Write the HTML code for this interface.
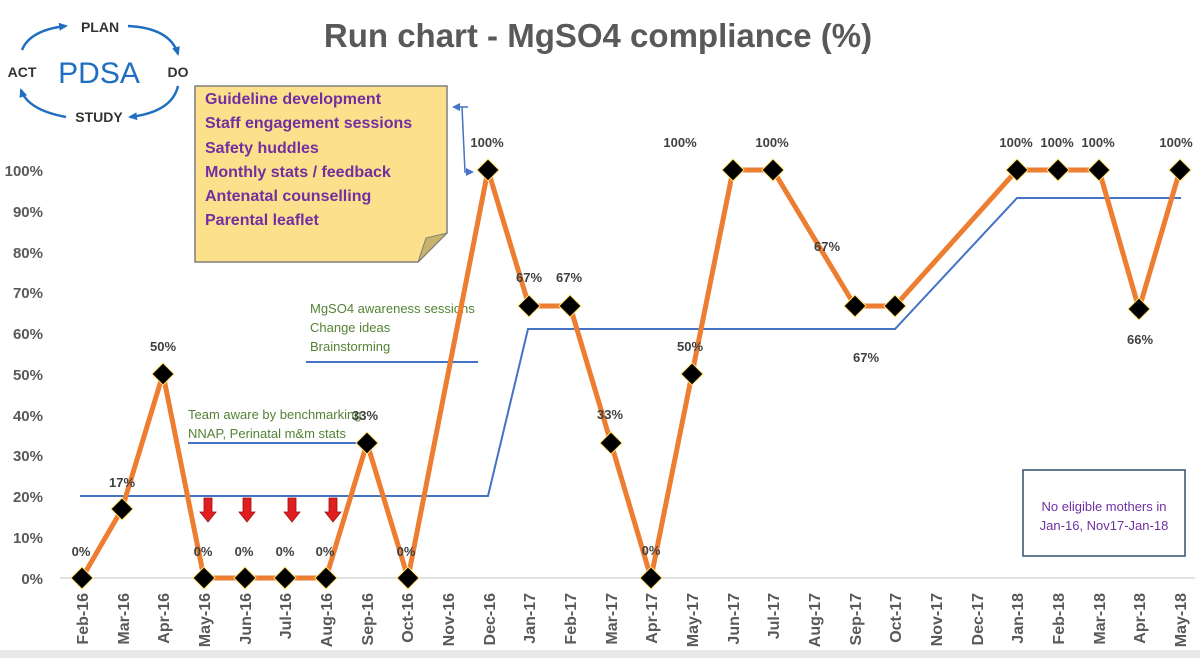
<!DOCTYPE html>
<html><head><meta charset="utf-8"><style>
html,body{margin:0;padding:0;background:#fff;}
svg{display:block;font-family:"Liberation Sans",sans-serif;}
</style></head><body>
<svg width="1200" height="658" viewBox="0 0 1200 658" xmlns="http://www.w3.org/2000/svg">
<defs>
<marker id="ah" markerUnits="userSpaceOnUse" markerWidth="10" markerHeight="10" refX="7" refY="5" orient="auto"><path d="M0,1 L9,5 L0,9 z" fill="#1f6fc0"/></marker>
<marker id="ab" markerUnits="userSpaceOnUse" markerWidth="8" markerHeight="8" refX="6" refY="4" orient="auto"><path d="M0,0 L8,4 L0,8 z" fill="#4472c4"/></marker>
</defs>
<rect x="0" y="650" width="1200" height="8" fill="#e8e8e8"/>
<text x="598" y="47" text-anchor="middle" font-size="33" font-weight="bold" fill="#595959">Run chart - MgSO4 compliance (%)</text>
<!-- PDSA -->
<g fill="none" stroke="#1f6fc0" stroke-width="2.5">
<path d="M22,50 Q30,30 66,26" marker-end="url(#ah)"/>
<path d="M128,26 Q170,28 178,54" marker-end="url(#ah)"/>
<path d="M178,86 Q172,112 130,117" marker-end="url(#ah)"/>
<path d="M66,117 Q28,110 21,90" marker-end="url(#ah)"/>
</g>
<text x="100" y="32" text-anchor="middle" font-size="14" font-weight="bold" fill="#333">PLAN</text>
<text x="22" y="77" text-anchor="middle" font-size="14" font-weight="bold" fill="#333">ACT</text>
<text x="178" y="77" text-anchor="middle" font-size="14" font-weight="bold" fill="#333">DO</text>
<text x="99" y="122" text-anchor="middle" font-size="14" font-weight="bold" fill="#333">STUDY</text>
<text x="99" y="83" text-anchor="middle" font-size="30" fill="#1f6fc0">PDSA</text>
<!-- note -->
<path d="M195,86 L447,86 L447,233 L418,262 L195,262 Z" fill="#fde08c" stroke="#7f7f7f" stroke-width="1.5"/>
<path d="M418,262 L426,238 L447,233 Z" fill="#c9b26a" stroke="#7f7f7f"/>
<g font-size="16" font-weight="bold" fill="#7030a0">
<text x="205" y="104">Guideline development</text>
<text x="205" y="128">Staff engagement sessions</text>
<text x="205" y="153">Safety huddles</text>
<text x="205" y="177">Monthly stats / feedback</text>
<text x="205" y="201">Antenatal counselling</text>
<text x="205" y="225">Parental leaflet</text>
</g>
<path d="M468,107 L454,107" stroke="#4472c4" stroke-width="1.5" marker-end="url(#ab)"/>
<path d="M462,107 L465,172 L472,172" stroke="#4472c4" stroke-width="1.5" fill="none" marker-end="url(#ab)"/>
<!-- y axis -->
<g font-size="15" font-weight="bold" fill="#595959" text-anchor="end">
<text x="43" y="584">0%</text><text x="43" y="543">10%</text><text x="43" y="502">20%</text><text x="43" y="461">30%</text><text x="43" y="421">40%</text><text x="43" y="380">50%</text><text x="43" y="339">60%</text><text x="43" y="298">70%</text><text x="43" y="258">80%</text><text x="43" y="217">90%</text><text x="43" y="176">100%</text>
</g>
<line x1="60" y1="578" x2="1195" y2="578" stroke="#d9d9d9" stroke-width="1.5"/>
<!-- x labels -->
<g font-size="16" font-weight="bold" fill="#595959" text-anchor="end">
<text transform="translate(88,593) rotate(-90)">Feb-16</text>
<text transform="translate(129,593) rotate(-90)">Mar-16</text>
<text transform="translate(169,593) rotate(-90)">Apr-16</text>
<text transform="translate(210,593) rotate(-90)">May-16</text>
<text transform="translate(251,593) rotate(-90)">Jun-16</text>
<text transform="translate(291,593) rotate(-90)">Jul-16</text>
<text transform="translate(332,593) rotate(-90)">Aug-16</text>
<text transform="translate(373,593) rotate(-90)">Sep-16</text>
<text transform="translate(413,593) rotate(-90)">Oct-16</text>
<text transform="translate(454,593) rotate(-90)">Nov-16</text>
<text transform="translate(495,593) rotate(-90)">Dec-16</text>
<text transform="translate(535,593) rotate(-90)">Jan-17</text>
<text transform="translate(576,593) rotate(-90)">Feb-17</text>
<text transform="translate(617,593) rotate(-90)">Mar-17</text>
<text transform="translate(657,593) rotate(-90)">Apr-17</text>
<text transform="translate(698,593) rotate(-90)">May-17</text>
<text transform="translate(739,593) rotate(-90)">Jun-17</text>
<text transform="translate(779,593) rotate(-90)">Jul-17</text>
<text transform="translate(820,593) rotate(-90)">Aug-17</text>
<text transform="translate(861,593) rotate(-90)">Sep-17</text>
<text transform="translate(901,593) rotate(-90)">Oct-17</text>
<text transform="translate(942,593) rotate(-90)">Nov-17</text>
<text transform="translate(983,593) rotate(-90)">Dec-17</text>
<text transform="translate(1023,593) rotate(-90)">Jan-18</text>
<text transform="translate(1064,593) rotate(-90)">Feb-18</text>
<text transform="translate(1105,593) rotate(-90)">Mar-18</text>
<text transform="translate(1145,593) rotate(-90)">Apr-18</text>
<text transform="translate(1186,593) rotate(-90)">May-18</text>
</g>
<!-- blue lines -->
<g stroke="#4472c4" stroke-width="2" fill="none">
<polyline points="80,496 488,496 528,329 895,329 1017,198 1181,198"/>
<line x1="188" y1="443" x2="372" y2="443"/>
<line x1="306" y1="362" x2="478" y2="362"/>
</g>
<g font-size="13" fill="#548235">
<text x="310" y="313">MgSO4 awareness sessions</text>
<text x="310" y="332">Change ideas</text>
<text x="310" y="351">Brainstorming</text>
<text x="188" y="419">Team aware by benchmarking</text>
<text x="188" y="438">NNAP, Perinatal m&amp;m stats</text>
</g>
<!-- red arrows -->
<g fill="#e02020" stroke="#a01010" stroke-width="0.8">
<path d="M204,498 h8 v14 h4 l-8,10 l-8,-10 h4 z"/>
<path d="M243,498 h8 v14 h4 l-8,10 l-8,-10 h4 z"/>
<path d="M288,498 h8 v14 h4 l-8,10 l-8,-10 h4 z"/>
<path d="M329,498 h8 v14 h4 l-8,10 l-8,-10 h4 z"/>
</g>
<!-- data -->
<polyline fill="none" stroke="#ed7d31" stroke-width="5" stroke-linejoin="round" points="82,578 122,509 163,374 204,578 245,578 285,578 326,578 367,443 408,578 488,170 529,306 570,306 611,443 651,578 692,374 733,170 773,170 855,306 895,306 1017,170 1058,170 1099,170 1139,309 1180,170"/>
<g fill="#000" stroke="#ffe070" stroke-width="1">
<path d="M82,567 l11,11 l-11,11 l-11,-11z"/><path d="M122,498 l11,11 l-11,11 l-11,-11z"/><path d="M163,363 l11,11 l-11,11 l-11,-11z"/><path d="M204,567 l11,11 l-11,11 l-11,-11z"/><path d="M245,567 l11,11 l-11,11 l-11,-11z"/><path d="M285,567 l11,11 l-11,11 l-11,-11z"/><path d="M326,567 l11,11 l-11,11 l-11,-11z"/><path d="M367,432 l11,11 l-11,11 l-11,-11z"/><path d="M408,567 l11,11 l-11,11 l-11,-11z"/><path d="M488,159 l11,11 l-11,11 l-11,-11z"/><path d="M529,295 l11,11 l-11,11 l-11,-11z"/><path d="M570,295 l11,11 l-11,11 l-11,-11z"/><path d="M611,432 l11,11 l-11,11 l-11,-11z"/><path d="M651,567 l11,11 l-11,11 l-11,-11z"/><path d="M692,363 l11,11 l-11,11 l-11,-11z"/><path d="M733,159 l11,11 l-11,11 l-11,-11z"/><path d="M773,159 l11,11 l-11,11 l-11,-11z"/><path d="M855,295 l11,11 l-11,11 l-11,-11z"/><path d="M895,295 l11,11 l-11,11 l-11,-11z"/><path d="M1017,159 l11,11 l-11,11 l-11,-11z"/><path d="M1058,159 l11,11 l-11,11 l-11,-11z"/><path d="M1099,159 l11,11 l-11,11 l-11,-11z"/><path d="M1139,298 l11,11 l-11,11 l-11,-11z"/><path d="M1180,159 l11,11 l-11,11 l-11,-11z"/>
</g>
<g font-size="13" font-weight="bold" fill="#404040" text-anchor="middle">
<text x="81" y="556">0%</text><text x="122" y="487">17%</text><text x="163" y="351">50%</text><text x="203" y="556">0%</text><text x="244" y="556">0%</text><text x="285" y="556">0%</text><text x="325" y="556">0%</text><text x="365" y="420">33%</text><text x="406" y="556">0%</text><text x="487" y="147">100%</text><text x="529" y="282">67%</text><text x="569" y="282">67%</text><text x="610" y="419">33%</text><text x="651" y="555">0%</text><text x="690" y="351">50%</text><text x="680" y="147">100%</text><text x="772" y="147">100%</text><text x="827" y="251">67%</text><text x="866" y="362">67%</text><text x="1016" y="147">100%</text><text x="1057" y="147">100%</text><text x="1098" y="147">100%</text><text x="1140" y="344">66%</text><text x="1176" y="147">100%</text>
</g>
<rect x="1023" y="470" width="162" height="86" fill="#fff" stroke="#2f4f6f" stroke-width="1.5"/>
<text x="1104" y="511" text-anchor="middle" font-size="13" fill="#7030a0">No eligible mothers in</text>
<text x="1104" y="530" text-anchor="middle" font-size="13" fill="#7030a0">Jan-16, Nov17-Jan-18</text>
</svg>
</body></html>
